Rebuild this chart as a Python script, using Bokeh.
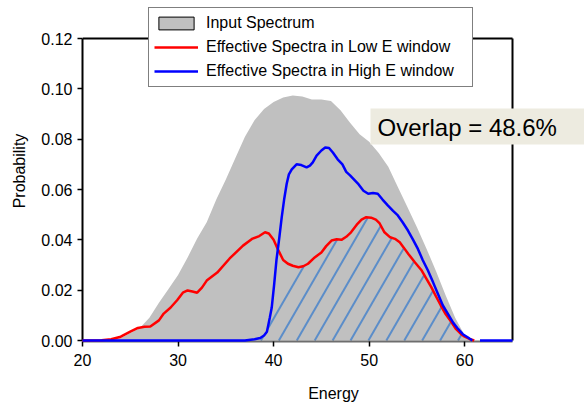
import numpy as np
from bokeh.plotting import figure
from bokeh.models import (Legend, LegendItem, Label, LinearAxis, Range1d,
                          FixedTicker, NumeralTickFormatter)
from bokeh.embed import file_html
from bokeh.resources import INLINE

# ---------------- data ----------------
input_E = [20, 22, 23, 24, 25, 26, 27, 28, 29, 30, 31, 32, 33, 34, 35, 36, 37, 38,
           39, 40, 41, 42, 43, 44, 45, 46, 47, 48, 49, 50, 51, 52, 53, 54, 55, 56,
           57, 58, 59, 60, 60.5, 61]
input_P = [0, 0, 0.0003, 0.001, 0.003, 0.005, 0.009, 0.015, 0.0205, 0.026, 0.033,
           0.0405, 0.047, 0.056, 0.064, 0.0725, 0.081, 0.0875, 0.092, 0.0948,
           0.0966, 0.0974, 0.0970, 0.0958, 0.0958, 0.0952, 0.0915, 0.0865, 0.082,
           0.079, 0.0745, 0.069, 0.061, 0.053, 0.045, 0.0365, 0.0275, 0.018, 0.009,
           0.002, 0.0005, 0]

low_E = [20, 22, 23, 24, 25, 25.8, 26.5, 27.1, 28, 28.5, 29.2, 29.9, 30.5, 31, 31.5,
         32, 32.5, 33, 34.1, 35.4, 36.8, 37.8, 38.5, 39.1, 39.5, 40.0, 40.5, 41.0,
         41.5, 42.0, 42.6, 43.1, 43.6, 44.3, 45.0, 45.5, 46.06, 46.6, 47.1, 47.6,
         48.1, 48.7, 49.2, 49.7, 50.2, 50.7, 51.1, 51.6, 52.2, 52.7, 53.2, 53.6,
         54.1, 54.8, 55.5, 56.0, 56.5, 57.0, 57.5, 58.0, 58.6, 59.1, 59.6, 60.0,
         60.5, 61.0]
low_P = [0, 0.0001, 0.0005, 0.0015, 0.0035, 0.005, 0.0055, 0.0056, 0.008, 0.0107,
         0.013, 0.016, 0.019, 0.0199, 0.0195, 0.019, 0.021, 0.0238, 0.027, 0.0326,
         0.0377, 0.0405, 0.0415, 0.043, 0.0425, 0.040, 0.0358, 0.032, 0.0305,
         0.0297, 0.0291, 0.0295, 0.0305, 0.033, 0.035, 0.0375, 0.0397, 0.0402,
         0.0400, 0.0412, 0.043, 0.046, 0.048, 0.049, 0.0488, 0.048, 0.0465, 0.043,
         0.041, 0.0404, 0.039, 0.037, 0.0344, 0.031, 0.0278, 0.0245, 0.0212,
         0.0175, 0.0139, 0.0105, 0.0073, 0.0045, 0.0026, 0.0015, 0.0006, 0]

high_E = [20, 37, 38.0, 38.6, 39.0, 39.3, 39.6, 39.8, 40.05, 40.3, 40.6, 40.85,
          41.1, 41.37, 41.6, 41.9, 42.4, 42.9, 43.45, 43.8, 44.1, 44.5, 45.0, 45.4,
          45.8, 46.2, 46.7, 47.2, 47.6, 48.0, 48.5, 48.9, 49.4, 49.9, 50.4, 50.9,
          51.4, 51.97, 52.5, 53.0, 53.5, 54.06, 54.6, 55.1, 55.6, 56.15, 56.7,
          57.2, 57.7, 58.24, 58.8, 59.3, 59.8, 60.3, 60.8, np.nan, 61.6, 65]
high_P = [0, 0, 0.0005, 0.001, 0.002, 0.0035, 0.009, 0.013, 0.022, 0.032, 0.041,
          0.049, 0.056, 0.0623, 0.066, 0.068, 0.070, 0.0697, 0.0688, 0.0695,
          0.0708, 0.0735, 0.0755, 0.0767, 0.0765, 0.0747, 0.072, 0.070, 0.067,
          0.0656, 0.0636, 0.062, 0.0595, 0.0583, 0.0586, 0.0583, 0.056, 0.0536,
          0.0515, 0.0497, 0.047, 0.0437, 0.040, 0.0364, 0.032, 0.0278, 0.023,
          0.0185, 0.014, 0.0106, 0.007, 0.0046, 0.0025, 0.0013, 0.0, np.nan, 0, 0]

x_ticks = [20, 30, 40, 50, 60]
y_ticks = [0.0, 0.02, 0.04, 0.06, 0.08, 0.10, 0.12]
x_bounds = (20, 65)
y_bounds = (0.0, 0.12)
overlap_text = "Overlap = 48.6%"
legend_labels = ["Input Spectrum", "Effective Spectra in Low E window",
                 "Effective Spectra in High E window"]

# ---------------- hatch of the overlap region (min of the two curves) ----------------
hatch_slope = 0.00658      # probability per energy unit (about 60 deg on screen)
hatch_step = 1.875         # energy spacing of hatch lines at the baseline
hatch_first = 38.675

hE = np.array(high_E, dtype=float)
hP = np.array(high_P, dtype=float)
ok = ~np.isnan(hE)
E_fine = np.linspace(37.0, 62.0, 5001)
low_f = np.interp(E_fine, low_E, low_P)
high_f = np.interp(E_fine, hE[ok], hP[ok])
overlap_f = np.minimum(low_f, high_f)

hatch_xs, hatch_ys = [], []
for e0 in np.arange(hatch_first, 61.0, hatch_step):
    lv = (E_fine - e0) * hatch_slope
    mask = (E_fine >= e0) & (lv <= overlap_f)
    idx = np.flatnonzero(mask)
    if idx.size < 2:
        continue
    runs = np.split(idx, np.flatnonzero(np.diff(idx) > 1) + 1)
    for r in runs:
        if r.size < 2:
            continue
        hatch_xs.append(list(E_fine[r[[0, -1]]]))
        hatch_ys.append(list(lv[r[[0, -1]]]))

# ---------------- figure ----------------
# plotting frame spans the canvas to the top/right so legend and label are not clipped;
# the visible axes box is limited with axis bounds.
FONT = "Liberation Sans"
PX_PER_E = 430 / 45.0
PX_PER_P = 302 / 0.12
p = figure(width=584, height=405, output_backend="svg", toolbar_location=None,
           x_range=Range1d(20, 20 + (584 - 82) / PX_PER_E),
           y_range=Range1d(-1 / PX_PER_P, 0.12 + 38 / PX_PER_P),
           min_border_left=82, min_border_right=0, min_border_top=0,
           min_border_bottom=64)
p.grid.visible = False
p.outline_line_color = None
p.background_fill_color = "white"
p.border_fill_color = "white"

area = p.varea(x=input_E, y1=0, y2=input_P, fill_color="#C0C0C0")
p.multi_line(xs=hatch_xs, ys=hatch_ys, line_color="#5B8DC9", line_width=2)
red = p.line(low_E, low_P, line_color="#FF0000", line_width=2.5, level="annotation")
blue = p.line(high_E, high_P, line_color="#0000FF", line_width=2.5, level="annotation")
# legend-only renderer (no drawable data) for the boxed grey swatch
legend_patch = p.quad(left=[np.nan], right=[np.nan], top=[np.nan], bottom=[np.nan],
                      fill_color="#C0C0C0", line_color="black", line_width=1)

# axes
xa = p.xaxis[0]
xa.ticker = FixedTicker(ticks=x_ticks)
xa.axis_label = "Energy"
xa.bounds = x_bounds
ya = p.yaxis[0]
ya.ticker = FixedTicker(ticks=y_ticks)
ya.formatter = NumeralTickFormatter(format="0.00")
ya.axis_label = "Probability"
ya.bounds = y_bounds
for ax in (xa, ya):
    ax.major_label_text_font = FONT
    ax.major_label_text_font_size = "16px"
    ax.major_label_text_color = "black"
    ax.axis_label_text_font = FONT
    ax.axis_label_text_font_size = "16px"
    ax.axis_label_text_font_style = "normal"
    ax.axis_label_text_color = "black"
    ax.major_tick_out = 5
    ax.major_tick_in = 0
    ax.minor_tick_line_color = None
    ax.major_tick_line_color = "black"
    ax.major_tick_line_width = 1.5
    ax.axis_line_width = 2
ya.axis_line_color = "black"
xa.axis_line_color = "#6E6E6E"
xa.major_label_standoff = 7
ya.axis_label_standoff = 10
xa.axis_label_standoff = 16

# top and right sides of the axes box
top_ax = LinearAxis(ticker=FixedTicker(ticks=[]), bounds=x_bounds,
                    fixed_location=y_bounds[1], axis_line_color="black",
                    axis_line_width=2, major_tick_line_color=None,
                    minor_tick_line_color=None, major_tick_out=0,
                    major_label_standoff=0)
right_ax = LinearAxis(ticker=FixedTicker(ticks=[]), bounds=y_bounds,
                      fixed_location=x_bounds[1], axis_line_color="black",
                      axis_line_width=2, major_tick_line_color=None,
                      minor_tick_line_color=None, major_tick_out=0,
                      major_label_standoff=0)
p.add_layout(top_ax, "above")
p.add_layout(right_ax, "right")

legend = Legend(items=[LegendItem(label=legend_labels[0], renderers=[legend_patch]),
                       LegendItem(label=legend_labels[1], renderers=[red]),
                       LegendItem(label=legend_labels[2], renderers=[blue])],
                location=(66, 254), orientation="vertical",
                label_text_font=FONT, label_text_font_size="16px",
                label_text_color="black", glyph_width=44, glyph_height=16,
                label_height=20, label_width=261, label_standoff=8, spacing=4,
                padding=5, margin=0,
                border_line_color="black", border_line_width=1.5,
                background_fill_color="white", background_fill_alpha=1.0)
p.add_layout(legend)

lbl = Label(x=288, y=215, x_units="screen", y_units="screen", text=overlap_text,
            text_font=FONT, text_font_size="24px", text_color="black",
            text_baseline="alphabetic", background_fill_color="#EDEBE0",
            padding=dict(left=7, right=40, top=5, bottom=4))
p.add_layout(lbl)

open("out.html", "w").write(file_html(p, INLINE))
